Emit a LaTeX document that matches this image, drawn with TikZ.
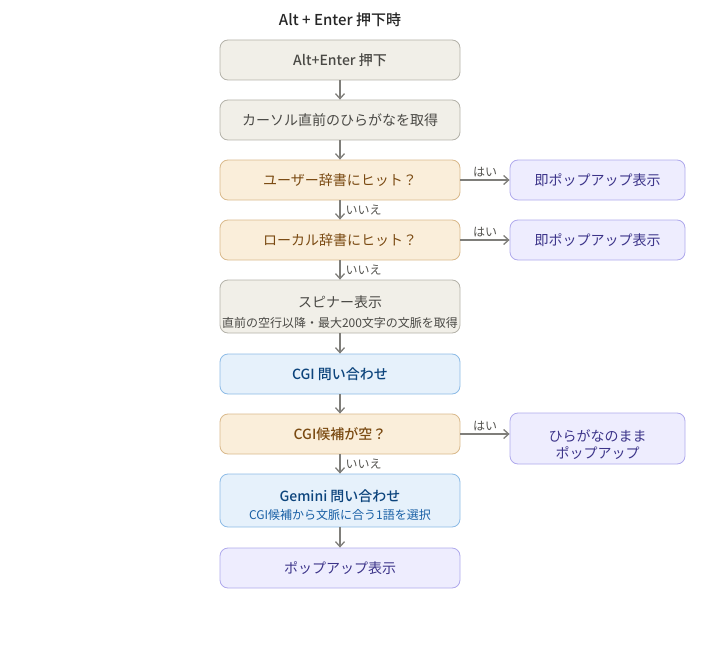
\documentclass[tikz,border=0pt]{standalone}
\usepackage{fontspec}
\setmainfont{Noto Sans CJK JP}[BoldFont={Noto Sans CJK JP Medium}]
\usepackage{tikz}
\usetikzlibrary{arrows.meta}

\definecolor{grayfill}{HTML}{F1EFE8}
\definecolor{grayline}{HTML}{B4B2A9}
\definecolor{graytext}{HTML}{4A4945}
\definecolor{orangefill}{HTML}{FAEEDA}
\definecolor{orangeline}{HTML}{D9B98C}
\definecolor{orangetext}{HTML}{7A4A12}
\definecolor{bluefill}{HTML}{E6F1FB}
\definecolor{blueline}{HTML}{8DBBE6}
\definecolor{bluetext}{HTML}{0C447C}
\definecolor{bluesub}{HTML}{185FA5}
\definecolor{purplefill}{HTML}{EEEDFE}
\definecolor{purpleline}{HTML}{AFA9EC}
\definecolor{purpletext}{HTML}{3C3489}
\definecolor{arrowgray}{HTML}{7F7E7A}
\definecolor{labelgray}{HTML}{555450}

\newcommand{\mainsize}{\fontsize{14}{20}\selectfont}
\newcommand{\subsize}{\fontsize{12}{14}\selectfont}
\newcommand{\droptext}[1]{\rule{0pt}{#1}}

\tikzset{
  box/.style={draw, rounded corners=8pt, line width=0.8pt, minimum width=240pt,
    minimum height=40pt, inner sep=0pt, align=center, font=\mainsize},
  sidebox/.style={minimum width=175pt},
  graybox/.style={box, fill=grayfill, draw=grayline, text=graytext},
  orangebox/.style={box, fill=orangefill, draw=orangeline, text=orangetext},
  bluebox/.style={box, fill=bluefill, draw=blueline, text=bluetext},
  purplebox/.style={box, fill=purplefill, draw=purpleline, text=purpletext},
  flow/.style={draw=arrowgray, line width=1.3pt, -{Straight Barb[length=5pt,width=9pt]}},
  answer/.style={font=\subsize, text=labelgray, inner sep=2pt}
}

\begin{document}
\begin{tikzpicture}[x=1pt,y=-1pt]
\useasboundingbox (0,0) rectangle (720,650);

\node[font=\fontsize{15}{18}\selectfont\bfseries, text=black!85] (heading) at (340,20) {Alt + Enter 押下時};

\node[graybox, font=\mainsize\bfseries] (press) at (340,60) {Alt+Enter 押下};
\node[graybox] (kana) at (340,120) {カーソル直前のひらがなを取得};
\node[orangebox] (userdic) at (340,180) {ユーザー辞書にヒット？};
\node[purplebox, sidebox] (popuser) at (597.5,180) {即ポップアップ表示};
\node[orangebox] (localdic) at (340,240) {ローカル辞書にヒット？};
\node[purplebox, sidebox] (poplocal) at (597.5,240) {即ポップアップ表示};
\node[graybox, minimum height=53pt] (spinner) at (340,306.5)
  {\droptext{22pt}スピナー表示\\[0pt]{\subsize 直前の空行以降・最大200文字の文脈を取得}};
\node[bluebox, font=\mainsize\bfseries] (cgi) at (340,374) {CGI 問い合わせ};
\node[orangebox, font=\mainsize\bfseries] (cgiempty) at (340,434) {CGI候補が空？};
\node[purplebox, sidebox, minimum height=51pt] (popkana) at (597.5,438.5)
  {\droptext{25pt}ひらがなのまま\\[-3pt]ポップアップ};
\node[bluebox, minimum height=53pt] (gemini) at (340,500.5)
  {\droptext{20pt}\textbf{Gemini 問い合わせ}\\[-2pt]{\subsize\color{bluesub} CGI候補から文脈に合う1語を選択}};
\node[purplebox] (popup) at (340,568) {ポップアップ表示};

% main flow
\draw[flow] (press) -- (kana);
\draw[flow] (kana) -- (userdic);
\draw[flow] (userdic) -- node[answer, right, xshift=3pt] {いいえ} (localdic);
\draw[flow] (localdic) -- node[answer, right, xshift=3pt] {いいえ} (spinner);
\draw[flow] (spinner) -- (cgi);
\draw[flow] (cgi) -- (cgiempty);
\draw[flow] (cgiempty) -- node[answer, right, xshift=3pt] {いいえ} (gemini);
\draw[flow] (gemini) -- (popup);

% yes branches
\draw[flow] (userdic) -- node[answer, above] {はい} (popuser);
\draw[flow] (localdic) -- node[answer, above] {はい} (poplocal);
\draw[flow] (cgiempty.east) -- node[answer, above] {はい} (cgiempty.east -| popkana.west);
\end{tikzpicture}
\end{document}
